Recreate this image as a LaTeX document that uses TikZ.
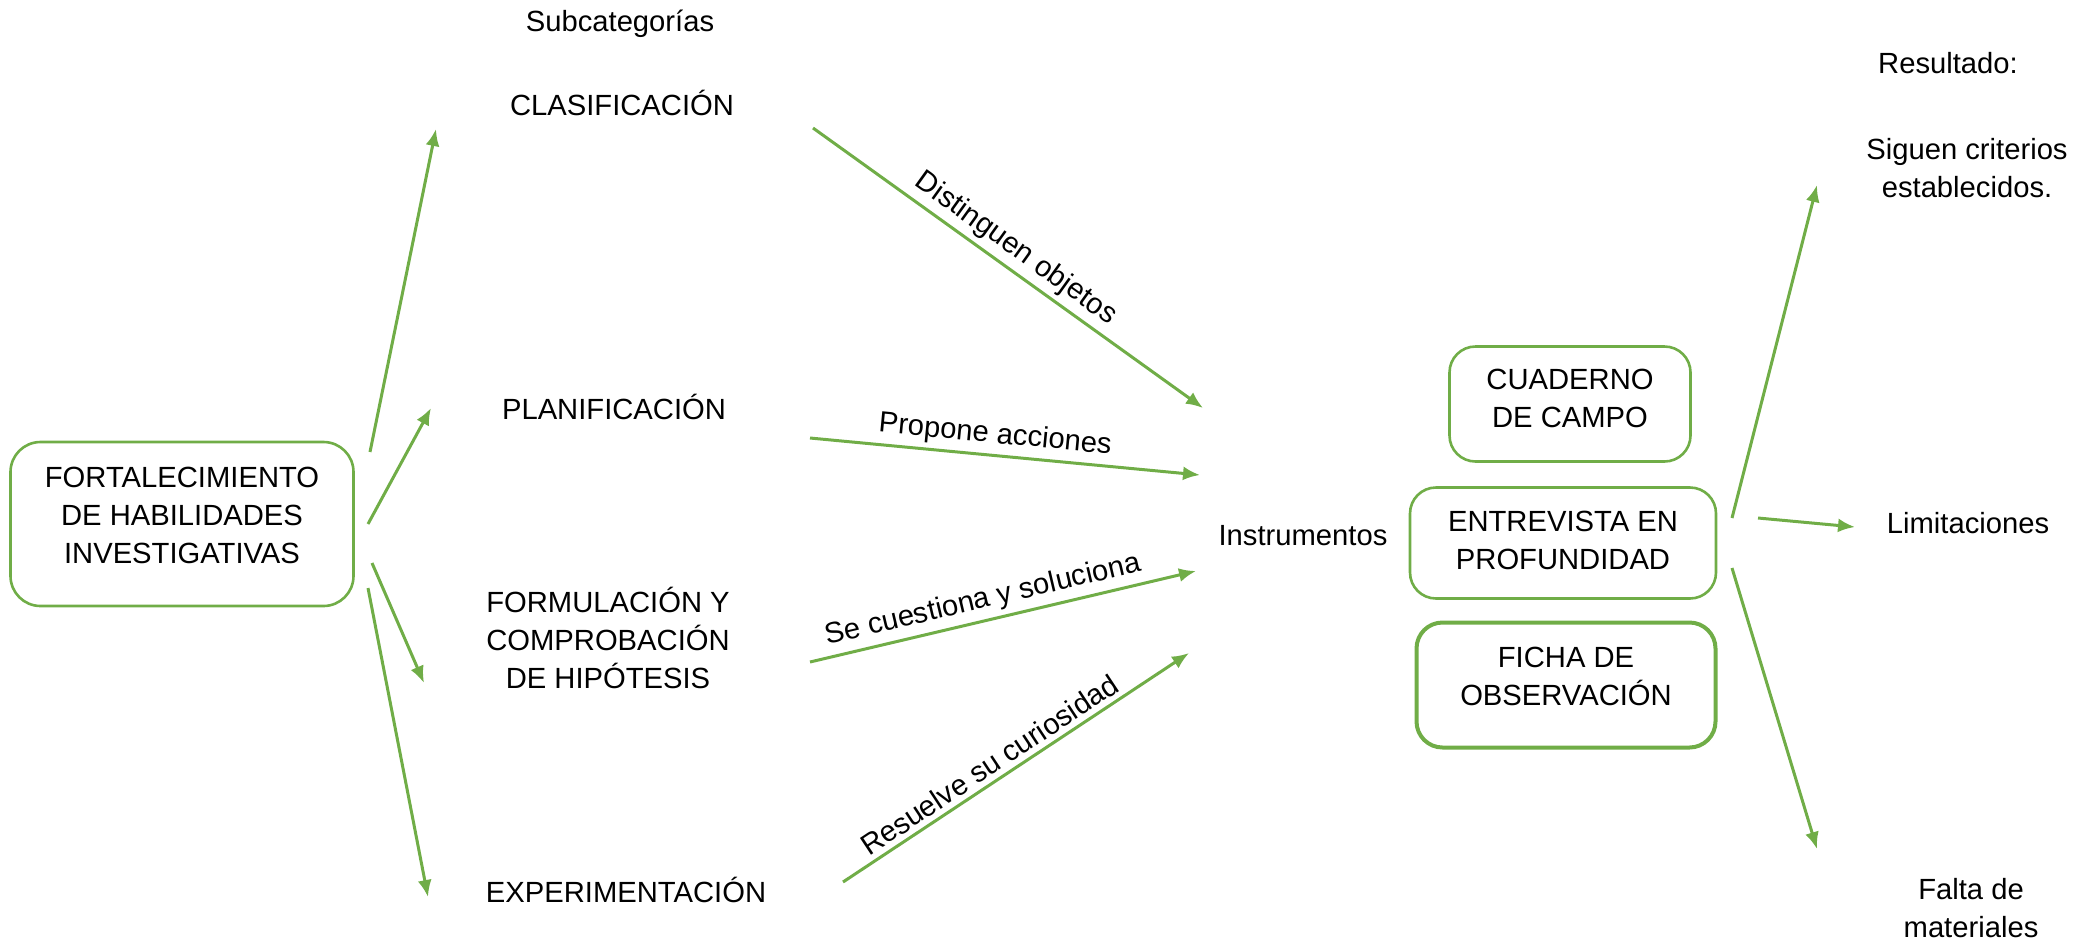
\documentclass[tikz,border=0pt]{standalone}
\usepackage{fontspec}
\setmainfont{Liberation Sans}
\usetikzlibrary{arrows.meta}
\definecolor{verde}{RGB}{112,173,71}

\begin{document}
\begin{tikzpicture}[x=0.5pt,y=-0.5pt]
    \tikzstyle{texto}=[font=\fontsize{14.6}{19}\selectfont,align=center,inner sep=0pt]
    \tikzstyle{caja}=[draw=verde,line width=1.3pt,rounded corners=13pt]
    \tikzstyle{flecha}=[draw=verde,line width=1.5pt,-{Latex[length=8.5pt,width=7pt]}]
    \tikzstyle{etiqueta}=[texto,sloped,above,inner sep=2.5pt]

    \useasboundingbox (0,0) rectangle (2092,943);

    % categoria principal
    \node[caja,rounded corners=15pt,minimum width=171.5pt,minimum height=82pt,
          label={[texto,yshift=4.5pt]center:FORTALECIMIENTO\\DE HABILIDADES\\INVESTIGATIVAS}] (fortalecimiento) at (182,524) {};

    % subcategorias
    \node[texto] (subcategorias) at (620,24) {Subcategorías};
    \node[texto] (clasificacion) at (622,103) {CLASIFICACIÓN};
    \node[texto] (planificacion) at (614,407) {PLANIFICACIÓN};
    \node[texto] (formulacion) at (608,638) {FORMULACIÓN Y\\COMPROBACIÓN\\DE HIPÓTESIS};
    \node[texto] (experimentacion) at (626,890) {EXPERIMENTACIÓN};

    % instrumentos
    \node[texto] (instrumentos) at (1303,536) {Instrumentos};
    \node[caja,minimum width=120.5pt,minimum height=57.5pt,
          label={[texto,yshift=3pt]center:CUADERNO\\DE CAMPO}] (cuaderno) at (1570,404) {};
    \node[caja,minimum width=153pt,minimum height=55.5pt,
          label={[texto,yshift=1.5pt]center:ENTREVISTA EN\\PROFUNDIDAD}] (entrevista) at (1563,543) {};
    \node[caja,line width=2pt,minimum width=149.5pt,minimum height=62.5pt,
          label={[texto,yshift=4.5pt]center:FICHA DE\\OBSERVACIÓN}] (ficha) at (1566,685) {};

    % resultados
    \node[texto] (resultado) at (1948,63) {Resultado:};
    \node[texto] (siguen) at (1967,168) {Siguen criterios\\establecidos.};
    \node[texto] (limitaciones) at (1968,523) {Limitaciones};
    \node[texto] (falta) at (1971,908) {Falta de\\materiales};

    % extremos de las flechas
    \coordinate (f1) at (370,452); \coordinate (c1) at (436,129);
    \coordinate (f2) at (368,524); \coordinate (c2) at (431,408);
    \coordinate (f3) at (372,563); \coordinate (c3) at (424,683);
    \coordinate (f4) at (368,588); \coordinate (c4) at (428,897);

    \coordinate (m1) at (813,128); \coordinate (i1) at (1203,408);
    \coordinate (m2) at (810,438); \coordinate (i2) at (1200,475);
    \coordinate (m3) at (810,662); \coordinate (i3) at (1196,571);
    \coordinate (m4) at (843,882); \coordinate (i4) at (1189,653);

    \coordinate (r1) at (1732,518); \coordinate (s1) at (1817,185);
    \coordinate (r2) at (1758,518); \coordinate (s2) at (1855,527);
    \coordinate (r3) at (1732,568); \coordinate (s3) at (1817,849);

    \draw[flecha] (f1) -- (c1);
    \draw[flecha] (f2) -- (c2);
    \draw[flecha] (f3) -- (c3);
    \draw[flecha] (f4) -- (c4);

    \draw[flecha] (m1) -- node[etiqueta,pos=0.49] {Distinguen objetos} (i1);
    \draw[flecha] (m2) -- node[etiqueta,pos=0.47] {Propone acciones} (i2);
    \draw[flecha] (m3) -- node[etiqueta,pos=0.46] {Se cuestiona y soluciona} (i3);
    \draw[flecha] (m4) -- node[etiqueta,pos=0.45] {Resuelve su curiosidad} (i4);

    \draw[flecha] (r1) -- (s1);
    \draw[flecha] (r2) -- (s2);
    \draw[flecha] (r3) -- (s3);
\end{tikzpicture}
\end{document}
